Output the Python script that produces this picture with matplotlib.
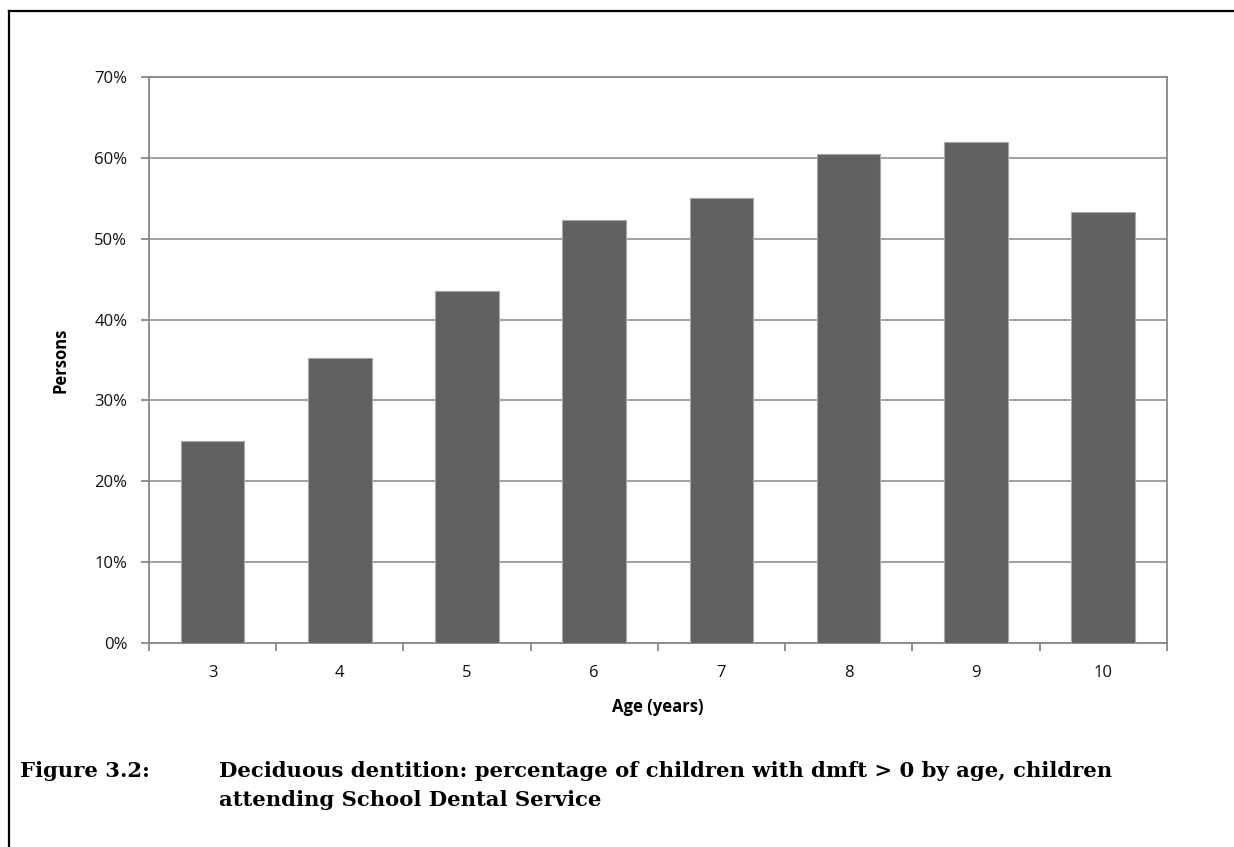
import numpy as np
import matplotlib.pyplot as plt
from matplotlib.lines import Line2D
from matplotlib.ticker import FixedLocator, PercentFormatter

# data
ages = ['3', '4', '5', '6', '7', '8', '9', '10']
pct_dmft = [25.0, 35.2, 43.5, 52.3, 55.0, 60.5, 62.0, 53.3]

caption_num = 'Figure 3.2:'
caption_lines = ['Deciduous dentition: percentage of children with dmft > 0 by age, children',
                 'attending School Dental Service']

fig = plt.figure(figsize=(12.34, 8.47), dpi=100)
ax = fig.add_axes([0.1207, 0.2409, 0.8248, 0.6682])

x = np.arange(len(ages))
ax.bar(x, pct_dmft, width=0.5, color='#616161', edgecolor='#a8a8a8', linewidth=0.8, zorder=3)

ax.set_xlim(-0.5, len(ages) - 0.5)
ax.set_ylim(0, 70)
ax.yaxis.set_major_locator(FixedLocator(np.arange(0, 71, 10)))
ax.yaxis.set_major_formatter(PercentFormatter(decimals=0))
ax.grid(axis='y', color='#9a9a9a', linewidth=1.3, zorder=0)

# labels at bar centres, tick marks at the category boundaries
ax.set_xticks(x)
ax.set_xticklabels(ages)
ax.xaxis.set_minor_locator(FixedLocator(np.arange(-0.5, len(ages), 1)))
ax.tick_params(axis='x', which='major', length=0, pad=16)
ax.tick_params(axis='x', which='minor', length=5.5, width=1.3, color='#888888', direction='out')
ax.tick_params(axis='y', length=5.5, width=1.3, color='#888888', direction='out', pad=10)

for lab in ax.get_xticklabels() + ax.get_yticklabels():
    lab.set_fontfamily('Open Sans')
    lab.set_fontsize(12)
    lab.set_color('#111111')

for s in ax.spines.values():
    s.set_color('#888888')
    s.set_linewidth(1.3)

ax.set_xlabel('Age (years)', fontfamily='Open Sans', fontsize=12, fontweight='bold', labelpad=12)
ax.set_ylabel('Persons', fontfamily='Open Sans', fontsize=12, fontweight='bold', labelpad=18)

# page frame (left and top edges only)
fig.add_artist(Line2D([9 / 1234, 9 / 1234], [0, 1 - 11 / 847], transform=fig.transFigure,
                      color='black', linewidth=1.6))
fig.add_artist(Line2D([9 / 1234, 1], [1 - 11 / 847, 1 - 11 / 847], transform=fig.transFigure,
                      color='black', linewidth=1.6))

# caption
cap_font = dict(fontfamily='DejaVu Serif', fontsize=15.2, fontweight='bold', va='baseline', ha='left')
fig.text(20 / 1234, 1 - 777 / 847, caption_num, **cap_font)
fig.text(219 / 1234, 1 - 777 / 847, caption_lines[0], **cap_font)
fig.text(219 / 1234, 1 - 806 / 847, caption_lines[1], **cap_font)

fig.savefig('out.png', dpi=100)
